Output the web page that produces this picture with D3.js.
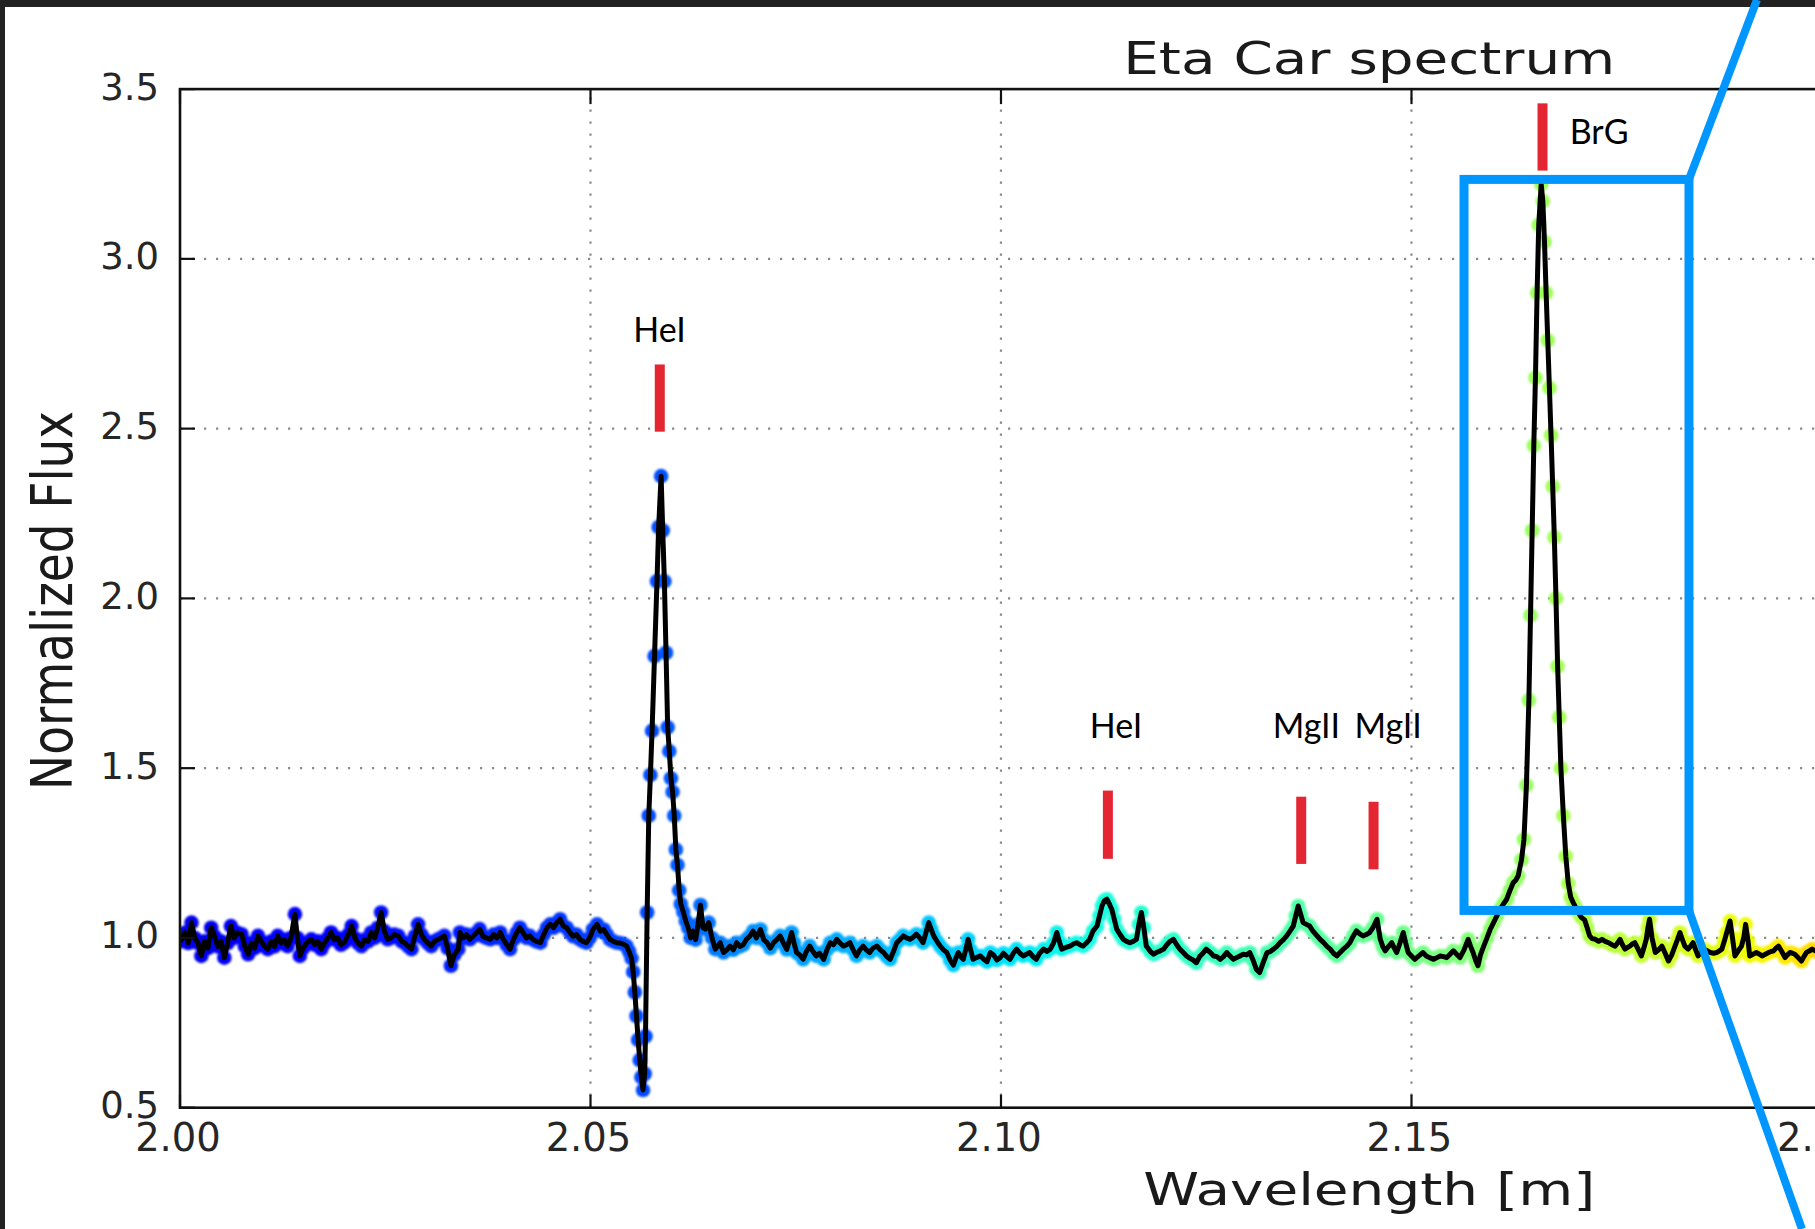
<!DOCTYPE html>
<html><head><meta charset="utf-8">
<script src="https://cdn.jsdelivr.net/npm/d3@7"></script>
<style>html,body{margin:0;padding:0;background:#fff;overflow:hidden;} svg{display:block;}</style>
</head><body>
<svg id="chart" width="1815" height="1229"></svg>
<script>
// ---- data (wavelength in micron, normalized flux) ----
const spectrum = [
[2.0000,0.990],[2.0002,0.996],[2.0006,1.015],[2.0010,0.985],[2.0014,1.045],[2.0018,1.000],[2.0022,0.985],[2.0026,0.947],[2.0030,0.990],[2.0034,0.970],
[2.0038,1.030],[2.0042,1.005],[2.0046,0.975],[2.0050,0.990],[2.0054,0.942],[2.0058,0.985],[2.0062,1.035],[2.0066,1.000],[2.0070,1.015],[2.0075,1.011],
[2.0079,0.975],[2.0083,0.952],[2.0087,0.985],[2.0091,0.970],[2.0095,1.006],[2.0099,0.990],[2.0103,0.975],[2.0107,0.967],[2.0111,0.990],[2.0115,0.975],
[2.0119,1.006],[2.0123,0.985],[2.0127,0.995],[2.0131,0.976],[2.0135,1.000],[2.0140,1.070],[2.0143,1.000],[2.0146,0.947],[2.0150,0.970],[2.0154,0.985],
[2.0160,0.996],[2.0164,0.980],[2.0168,0.990],[2.0172,0.967],[2.0176,0.985],[2.0180,1.000],[2.0184,1.016],[2.0188,0.995],[2.0192,1.000],[2.0196,0.980],
[2.0200,0.986],[2.0205,1.010],[2.0209,1.035],[2.0213,1.000],[2.0217,0.985],[2.0221,0.976],[2.0225,0.995],[2.0229,0.990],[2.0233,1.016],[2.0237,1.000],
[2.0241,1.030],[2.0245,1.075],[2.0249,1.020],[2.0253,0.996],[2.0257,1.000],[2.0261,1.010],[2.0266,1.006],[2.0270,0.990],[2.0274,0.985],[2.0278,0.975],
[2.0282,0.967],[2.0286,1.005],[2.0290,1.040],[2.0294,1.010],[2.0298,0.995],[2.0302,0.985],[2.0306,0.976],[2.0310,0.990],[2.0314,0.995],[2.0318,1.000],
[2.0322,1.006],[2.0326,0.970],[2.0330,0.918],[2.0334,0.950],[2.0339,0.967],[2.0341,1.016],[2.0345,1.000],[2.0349,1.010],[2.0353,0.996],[2.0357,1.005],
[2.0361,1.015],[2.0365,1.026],[2.0369,1.005],[2.0373,1.000],[2.0378,0.996],[2.0382,1.010],[2.0386,1.000],[2.0390,1.016],[2.0394,0.995],[2.0398,0.980],
[2.0402,0.967],[2.0406,0.995],[2.0410,1.015],[2.0414,1.030],[2.0418,1.015],[2.0422,1.000],[2.0426,1.006],[2.0430,0.995],[2.0434,0.990],[2.0439,0.986],
[2.0443,1.010],[2.0447,1.030],[2.0451,1.040],[2.0455,1.030],[2.0459,1.045],[2.0463,1.055],[2.0467,1.035],[2.0471,1.030],[2.0475,1.016],[2.0479,1.005],
[2.0483,1.010],[2.0487,0.996],[2.0491,0.990],[2.0495,0.986],[2.0499,1.000],[2.0503,1.025],[2.0508,1.040],[2.0512,1.020],[2.0516,1.025],[2.0520,1.010],
[2.0524,0.995],[2.0528,0.990],[2.0532,0.986],[2.0536,0.985],[2.0540,0.982],[2.0544,0.976],[2.0547,0.960],[2.0550,0.940],[2.0552,0.900],[2.0554,0.840],
[2.0556,0.770],[2.0558,0.700],[2.0560,0.640],[2.0562,0.590],[2.0564,0.552],[2.0566,0.600],[2.0567,0.710],[2.0569,1.075],[2.0571,1.360],[2.0573,1.480],
[2.0575,1.610],[2.0578,1.830],[2.0581,2.050],[2.0583,2.210],[2.0586,2.360],[2.0588,2.200],[2.0590,2.050],[2.0592,1.840],[2.0594,1.620],[2.0596,1.550],
[2.0598,1.470],[2.0600,1.430],[2.0602,1.360],[2.0604,1.260],[2.0606,1.215],[2.0608,1.140],[2.0610,1.100],[2.0613,1.077],[2.0616,1.050],[2.0619,1.030],
[2.0622,1.000],[2.0625,1.020],[2.0628,0.995],[2.0631,1.040],[2.0634,1.097],[2.0637,1.030],[2.0640,1.026],[2.0644,1.045],[2.0648,1.000],[2.0652,0.967],
[2.0655,0.975],[2.0658,0.986],[2.0662,0.957],[2.0666,0.965],[2.0670,0.976],[2.0674,0.965],[2.0678,0.986],[2.0682,0.975],[2.0686,0.980],[2.0690,0.996],
[2.0694,1.005],[2.0698,1.020],[2.0702,1.000],[2.0707,1.025],[2.0711,0.995],[2.0715,0.986],[2.0719,0.970],[2.0723,0.986],[2.0727,0.995],[2.0731,1.006],
[2.0735,0.985],[2.0739,0.966],[2.0742,0.990],[2.0745,1.016],[2.0748,0.985],[2.0751,0.957],[2.0755,0.950],[2.0759,0.937],[2.0763,0.960],[2.0767,0.976],
[2.0771,0.960],[2.0775,0.947],[2.0779,0.955],[2.0784,0.937],[2.0788,0.965],[2.0792,0.986],[2.0796,0.980],[2.0800,0.996],[2.0804,0.985],[2.0808,0.976],
[2.0812,0.980],[2.0816,0.986],[2.0820,0.965],[2.0824,0.947],[2.0828,0.965],[2.0832,0.976],[2.0836,0.965],[2.0840,0.957],[2.0844,0.970],[2.0849,0.976],
[2.0853,0.965],[2.0857,0.957],[2.0861,0.945],[2.0865,0.937],[2.0869,0.960],[2.0873,0.986],[2.0877,0.995],[2.0881,1.006],[2.0885,1.000],[2.0889,0.996],
[2.0893,1.002],[2.0897,1.011],[2.0901,1.000],[2.0905,0.986],[2.0908,1.010],[2.0912,1.045],[2.0915,1.025],[2.0918,1.006],[2.0922,0.990],[2.0926,0.976],
[2.0930,0.965],[2.0934,0.957],[2.0938,0.935],[2.0942,0.920],[2.0945,0.940],[2.0948,0.957],[2.0951,0.945],[2.0954,0.937],[2.0957,0.965],[2.0960,0.996],
[2.0963,0.965],[2.0966,0.937],[2.0970,0.942],[2.0975,0.947],[2.0979,0.937],[2.0983,0.930],[2.0987,0.957],[2.0991,0.950],[2.0995,0.935],[2.0999,0.942],
[2.1003,0.955],[2.1007,0.945],[2.1011,0.937],[2.1015,0.955],[2.1019,0.967],[2.1023,0.955],[2.1027,0.947],[2.1031,0.952],[2.1035,0.957],[2.1039,0.945],
[2.1043,0.937],[2.1047,0.955],[2.1052,0.967],[2.1056,0.960],[2.1060,0.967],[2.1064,0.985],[2.1068,1.016],[2.1071,0.990],[2.1074,0.967],[2.1079,0.972],
[2.1084,0.976],[2.1088,0.982],[2.1092,0.986],[2.1096,0.980],[2.1100,0.976],[2.1104,0.985],[2.1108,0.996],[2.1112,1.020],[2.1117,1.035],[2.1120,1.065],
[2.1123,1.094],[2.1126,1.110],[2.1129,1.114],[2.1132,1.100],[2.1135,1.084],[2.1138,1.055],[2.1141,1.026],[2.1145,1.010],[2.1149,0.996],[2.1153,0.990],
[2.1157,0.986],[2.1161,0.990],[2.1165,0.996],[2.1168,1.040],[2.1171,1.075],[2.1174,1.030],[2.1177,0.976],[2.1182,0.960],[2.1186,0.952],[2.1190,0.958],
[2.1194,0.962],[2.1198,0.967],[2.1202,0.980],[2.1206,0.990],[2.1210,0.996],[2.1214,0.980],[2.1218,0.967],[2.1222,0.957],[2.1226,0.947],[2.1230,0.940],
[2.1234,0.935],[2.1238,0.927],[2.1242,0.945],[2.1246,0.955],[2.1250,0.967],[2.1255,0.957],[2.1259,0.947],[2.1263,0.945],[2.1267,0.937],[2.1271,0.945],
[2.1275,0.957],[2.1279,0.947],[2.1283,0.937],[2.1287,0.942],[2.1291,0.947],[2.1295,0.952],[2.1299,0.950],[2.1303,0.957],[2.1307,0.935],[2.1311,0.908],
[2.1315,0.898],[2.1319,0.925],[2.1324,0.957],[2.1328,0.960],[2.1332,0.967],[2.1336,0.975],[2.1340,0.986],[2.1344,0.995],[2.1348,1.006],[2.1352,1.020],
[2.1356,1.035],[2.1359,1.065],[2.1362,1.094],[2.1365,1.070],[2.1368,1.045],[2.1372,1.040],[2.1376,1.035],[2.1380,1.020],[2.1385,1.006],[2.1389,0.995],
[2.1393,0.986],[2.1397,0.975],[2.1401,0.967],[2.1405,0.955],[2.1409,0.947],[2.1413,0.957],[2.1417,0.967],[2.1421,0.975],[2.1425,0.986],[2.1429,1.005],
[2.1433,1.021],[2.1437,1.012],[2.1441,1.006],[2.1445,1.010],[2.1449,1.016],[2.1453,1.030],[2.1458,1.055],[2.1462,0.996],[2.1465,0.975],[2.1468,0.962],
[2.1472,0.975],[2.1476,0.986],[2.1479,0.970],[2.1482,0.957],[2.1486,0.985],[2.1490,1.016],[2.1493,0.985],[2.1496,0.957],[2.1500,0.947],[2.1504,0.937],
[2.1509,0.947],[2.1514,0.957],[2.1518,0.947],[2.1522,0.942],[2.1527,0.937],[2.1531,0.942],[2.1535,0.947],[2.1539,0.945],[2.1543,0.942],[2.1547,0.952],
[2.1551,0.962],[2.1555,0.952],[2.1559,0.942],[2.1564,0.965],[2.1569,0.996],[2.1572,0.975],[2.1575,0.957],[2.1578,0.935],[2.1581,0.918],[2.1584,0.950],
[2.1588,0.976],[2.1592,1.000],[2.1596,1.026],[2.1600,1.045],[2.1604,1.065],[2.1608,1.085],[2.1612,1.100],[2.1616,1.114],[2.1620,1.140],[2.1624,1.163],
[2.1627,1.170],[2.1630,1.183],[2.1634,1.230],[2.1637,1.290],[2.1640,1.450],[2.1643,1.700],[2.1645,1.950],[2.1647,2.200],[2.1649,2.450],[2.1651,2.650],
[2.1653,2.900],[2.1655,3.100],[2.1658,3.220],[2.1660,3.170],[2.1662,3.050],[2.1664,2.900],[2.1666,2.760],[2.1668,2.620],[2.1670,2.480],[2.1672,2.330],
[2.1674,2.180],[2.1676,2.000],[2.1678,1.800],[2.1680,1.650],[2.1682,1.500],[2.1685,1.360],[2.1688,1.240],[2.1691,1.160],[2.1694,1.120],[2.1697,1.104],
[2.1700,1.090],[2.1703,1.075],[2.1707,1.060],[2.1711,1.053],[2.1714,1.030],[2.1717,1.006],[2.1720,0.998],[2.1724,0.996],[2.1728,0.990],[2.1732,0.996],
[2.1736,0.990],[2.1740,0.986],[2.1744,0.980],[2.1748,0.976],[2.1751,0.985],[2.1754,0.996],[2.1757,0.980],[2.1760,0.967],[2.1763,0.972],[2.1766,0.976],
[2.1769,0.982],[2.1772,0.986],[2.1776,0.967],[2.1780,0.947],[2.1783,0.970],[2.1786,0.996],[2.1788,1.030],[2.1790,1.055],[2.1793,1.000],[2.1797,0.957],
[2.1801,0.965],[2.1805,0.976],[2.1809,0.955],[2.1813,0.932],[2.1817,0.950],[2.1821,0.976],[2.1824,0.995],[2.1827,1.016],[2.1830,0.995],[2.1833,0.976],
[2.1837,0.967],[2.1840,0.976],[2.1843,0.986],[2.1846,0.966],[2.1849,0.947],[2.1852,0.957],[2.1856,0.967],[2.1860,0.962],[2.1864,0.957],[2.1868,0.955],
[2.1872,0.957],[2.1875,0.962],[2.1878,0.967],[2.1881,0.990],[2.1884,1.016],[2.1888,1.050],[2.1891,1.000],[2.1894,0.947],[2.1898,0.962],[2.1902,0.976],
[2.1905,1.005],[2.1907,1.040],[2.1910,0.990],[2.1912,0.947],[2.1916,0.952],[2.1920,0.957],[2.1924,0.952],[2.1927,0.947],[2.1931,0.952],[2.1935,0.957],
[2.1938,0.960],[2.1941,0.962],[2.1944,0.970],[2.1947,0.976],[2.1951,0.960],[2.1955,0.942],[2.1958,0.950],[2.1961,0.957],[2.1964,0.955],[2.1967,0.952],
[2.1971,0.942],[2.1975,0.932],[2.1978,0.945],[2.1981,0.957],[2.1985,0.962],[2.1988,0.967],[2.1992,0.962],[2.1996,0.957],[2.2000,0.960],[2.2004,0.955]
];

const xTicks = [2.00, 2.05, 2.10, 2.15, 2.20];
const xTickLabels = ["2.00", "2.05", "2.10", "2.15", "2.20"];
const yTicks = [0.5, 1.0, 1.5, 2.0, 2.5, 3.0, 3.5];
const yTickLabels = ["0.5", "1.0", "1.5", "2.0", "2.5", "3.0", "3.5"];

// spectral line markers
const lineNames = ["HeI", "HeI", "MgII", "MgII", "BrG"];
const lineWavelengths = [2.05844, 2.11302, 2.13657, 2.14538, 2.16596];
const lineMarkTop = [2.689, 1.434, 1.416, 1.401, 3.458];
const lineMarkBottom = [2.491, 1.233, 1.218, 1.202, 3.260];
const labelWavelengths = [2.0584, 2.11401, 2.1372, 2.14715, 2.16927];
const labelFlux = [2.756, 1.589, 1.589, 1.589, 3.338];
const labelAnchors = ["middle", "middle", "middle", "middle", "start"];

// zoom-box highlight around Br gamma
const zoomBoxWavelength = [2.1564, 2.1838];
const zoomBoxFlux = [1.081, 3.234];
const connectorWavelength = [2.19208, 2.19756];
const connectorFlux = [3.763, 0.1427];

// colour stops (wavelength -> position in jet colormap)
const colourStopWavelength = [2.000, 2.058, 2.070, 2.095, 2.130, 2.155, 2.175, 2.195];
const colourStopJet = [0.09, 0.20, 0.27, 0.33, 0.43, 0.50, 0.575, 0.66];

// ---- drawing ----
const W = 1815, H = 1229;
const svg = d3.select("#chart");
const x = d3.scaleLinear().domain([2.0, 2.2897]).range([180, 2558.4]);
const y = d3.scaleLinear().domain([0.5, 3.5]).range([1107.7, 89.1]);
const [xL, xR] = x.range();
const [yB, yT] = y.range();

// jet colormap
const jr = d3.scaleLinear().domain([0, 0.35, 0.66, 0.89, 1]).range([0, 0, 1, 1, 0.5]).clamp(true);
const jg = d3.scaleLinear().domain([0, 0.125, 0.375, 0.64, 0.91, 1]).range([0, 0, 1, 1, 0, 0]).clamp(true);
const jb = d3.scaleLinear().domain([0, 0.11, 0.34, 0.65, 1]).range([0.5, 1, 1, 0, 0]).clamp(true);
const cnorm = d3.scaleLinear().domain(colourStopWavelength).range(colourStopJet).clamp(false);
const jet = v => { const t = cnorm(v); return d3.rgb(jr(t) * 255, jg(t) * 255, jb(t) * 255).toString(); };

const defs = svg.append("defs");
defs.append("clipPath").attr("id", "plotclip").append("rect")
  .attr("x", xL).attr("y", yT).attr("width", xR - xL).attr("height", yB - yT);
defs.append("filter").attr("id", "soft").attr("x", "-20%").attr("y", "-20%").attr("width", "140%").attr("height", "140%")
  .append("feGaussianBlur").attr("stdDeviation", 1.3);
defs.append("filter").attr("id", "softline").append("feGaussianBlur").attr("stdDeviation", 0.6);

svg.append("rect").attr("width", W).attr("height", H).attr("fill", "#fff");

// grid
const grid = svg.append("g").attr("stroke", "#8a8a8a").attr("stroke-width", 2.2).attr("stroke-dasharray", "2.2,9.8");
grid.selectAll("line.gx").data(xTicks.filter(t => t > 2.0)).join("line")
  .attr("x1", d => x(d)).attr("x2", d => x(d)).attr("y1", yB).attr("y2", yT);
grid.selectAll("line.gy").data(yTicks.filter(t => t > 0.5 && t < 3.5)).join("line")
  .attr("x1", xL).attr("x2", xR).attr("y1", d => y(d)).attr("y2", d => y(d));

// data
const plot = svg.append("g").attr("clip-path", "url(#plotclip)");
plot.append("g").attr("filter", "url(#soft)")
  .selectAll("circle").data(spectrum).join("circle")
  .attr("cx", d => x(d[0])).attr("cy", d => y(d[1])).attr("r", 7.3)
  .attr("fill", d => jet(d[0]));
plot.append("path").datum(spectrum)
  .attr("d", d3.line().x(d => x(d[0])).y(d => y(d[1])))
  .attr("fill", "none").attr("stroke", "#000").attr("stroke-width", 5)
  .attr("stroke-linejoin", "round").attr("filter", "url(#softline)");

// frame
svg.append("rect").attr("x", xL).attr("y", yT).attr("width", xR - xL).attr("height", yB - yT)
  .attr("fill", "none").attr("stroke", "#111").attr("stroke-width", 2.6);

// ticks (inward)
const tk = svg.append("g").attr("stroke", "#111").attr("stroke-width", 2.2);
xTicks.forEach(t => {
  tk.append("line").attr("x1", x(t)).attr("x2", x(t)).attr("y1", yB).attr("y2", yB - 13);
  tk.append("line").attr("x1", x(t)).attr("x2", x(t)).attr("y1", yT).attr("y2", yT + 15);
});
yTicks.forEach(t => {
  tk.append("line").attr("x1", xL).attr("x2", xL + 15).attr("y1", y(t)).attr("y2", y(t));
});

// tick labels
const font = "'DejaVu Sans', sans-serif";
svg.append("g").selectAll("text").data(yTicks).join("text")
  .attr("x", 159).attr("y", d => y(d) + 10.5).attr("text-anchor", "end")
  .attr("font-family", font).attr("font-size", 37).attr("fill", "#262626")
  .text((d, i) => yTickLabels[i]);
svg.append("g").selectAll("text").data(xTicks).join("text")
  .attr("x", d => x(d) - 2).attr("y", 1151).attr("text-anchor", "middle")
  .attr("font-family", font).attr("font-size", 38.5).attr("fill", "#262626")
  .text((d, i) => xTickLabels[i]);

// title and axis labels
const midX = (xL + xR) / 2;
svg.append("text").attr("x", midX).attr("y", 74).attr("text-anchor", "middle")
  .attr("font-family", font).attr("font-size", 44).attr("fill", "#1a1a1a")
  .attr("textLength", 492).attr("lengthAdjust", "spacingAndGlyphs")
  .text("Eta Car spectrum");
svg.append("text").attr("x", midX).attr("y", 1205).attr("text-anchor", "middle")
  .attr("font-family", font).attr("font-size", 44).attr("fill", "#1a1a1a")
  .attr("textLength", 452).attr("lengthAdjust", "spacingAndGlyphs")
  .text("Wavelength [m]");
svg.append("text").attr("transform", `translate(71.8,${(yB + yT) / 2 + 2}) scale(1.2,1) rotate(-90)`)
  .attr("text-anchor", "middle")
  .attr("font-family", font).attr("font-size", 47).attr("fill", "#1a1a1a")
  .text("Normalized Flux");

// line markers
const ann = svg.append("g");
ann.selectAll("rect").data(lineWavelengths).join("rect")
  .attr("x", d => x(d) - 5).attr("width", 10)
  .attr("y", (d, i) => y(lineMarkTop[i])).attr("height", (d, i) => y(lineMarkBottom[i]) - y(lineMarkTop[i]))
  .attr("fill", "#e32632");
ann.selectAll("text").data(lineNames).join("text")
  .attr("x", (d, i) => x(labelWavelengths[i])).attr("y", (d, i) => y(labelFlux[i]))
  .attr("text-anchor", (d, i) => labelAnchors[i])
  .attr("font-family", "Lato, 'Open Sans', sans-serif").attr("font-size", 34).attr("fill", "#000")
  .text(d => d);

// dark frame of the slide
svg.append("rect").attr("x", 0).attr("y", 0).attr("width", W).attr("height", 7).attr("fill", "#222");
svg.append("rect").attr("x", 0).attr("y", 0).attr("width", 5).attr("height", H).attr("fill", "#222");

// zoom box and connectors
const blue = "#0096ff";
svg.append("rect")
  .attr("x", x(zoomBoxWavelength[0])).attr("y", y(zoomBoxFlux[1]))
  .attr("width", x(zoomBoxWavelength[1]) - x(zoomBoxWavelength[0]))
  .attr("height", y(zoomBoxFlux[0]) - y(zoomBoxFlux[1]))
  .attr("fill", "none").attr("stroke", blue).attr("stroke-width", 9);
svg.append("line")
  .attr("x1", x(zoomBoxWavelength[1])).attr("y1", y(zoomBoxFlux[1]))
  .attr("x2", x(connectorWavelength[0])).attr("y2", y(connectorFlux[0]))
  .attr("stroke", blue).attr("stroke-width", 8);
svg.append("line")
  .attr("x1", x(zoomBoxWavelength[1])).attr("y1", y(zoomBoxFlux[0]))
  .attr("x2", x(connectorWavelength[1])).attr("y2", y(connectorFlux[1]))
  .attr("stroke", blue).attr("stroke-width", 8);
</script>
</body></html>
